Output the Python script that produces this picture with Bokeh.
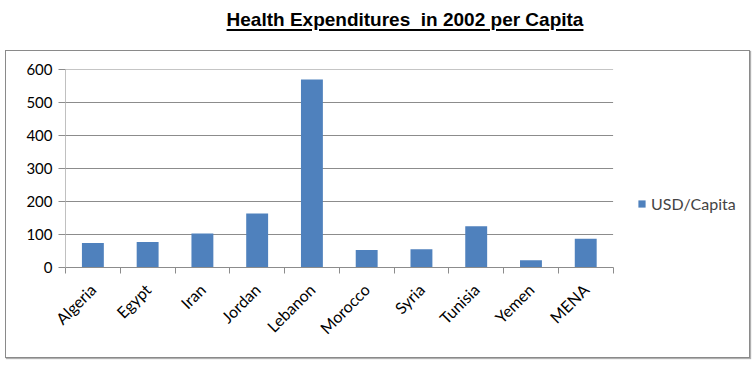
from math import pi
from bokeh.plotting import figure
from bokeh.models import ColumnDataSource, FixedTicker, Legend, LegendItem, Div, Range1d
from bokeh.layouts import column
from bokeh.embed import file_html
from bokeh.resources import INLINE

countries = ["Algeria", "Egypt", "Iran", "Jordan", "Lebanon", "Morocco", "Syria", "Tunisia", "Yemen", "MENA"]
usd_per_capita = [74, 77, 103, 164, 570, 53, 55, 125, 22, 87]
y_ticks = [0, 100, 200, 300, 400, 500, 600]
series_name = "USD/Capita"
title_text = "Health Expenditures&nbsp; in 2002 per Capita"

n = len(countries)
centers = [i + 0.5 for i in range(n)]
bounds = [float(i) for i in range(n + 1)]
src = ColumnDataSource(dict(x=centers, top=usd_per_capita, name=countries))

FONT = "Lato"
BAR = "#4f81bd"
GRID = "#8c8c8c"

# the frame also covers the legend area to the right of the bars
CAT_PX = 546          # pixel width of the category area
FRAME_PX = 680        # pixel width of the whole frame
x_end = n * FRAME_PX / CAT_PX

p = figure(output_backend="svg", toolbar_location=None,
           frame_width=FRAME_PX, frame_height=196,
           x_range=Range1d(0, x_end), y_range=Range1d(y_ticks[0], y_ticks[-1]),
           min_border_left=59, min_border_right=4, min_border_top=18, min_border_bottom=92,
           background_fill_color="white", border_fill_color="white")
p.outline_line_color = None
p.styles = {"border": "1px solid #8a8a8a", "box-shadow": "1px 1px 1px #b0b0b0",
            "margin-left": "5px"}

# horizontal gridlines over the category area only
grid_src = ColumnDataSource(dict(y=y_ticks[1:]))
p.segment(x0=0, x1=n, y0="y", y1="y", source=grid_src, line_color=GRID, line_width=1)

r = p.vbar(x="x", top="top", bottom=0, width=0.4, source=src, fill_color=BAR, line_color=None)

# x axis
p.xaxis.bounds = (0, n)
p.xaxis.ticker = FixedTicker(ticks=centers, minor_ticks=bounds)
p.xaxis.major_label_overrides = {c: name for c, name in zip(centers, countries)}
p.xaxis.major_tick_line_color = None
p.xaxis.minor_tick_line_color = GRID
p.xaxis.minor_tick_in = 0
p.xaxis.minor_tick_out = 6
p.xaxis.axis_line_color = GRID
p.xaxis.major_label_orientation = pi / 4
p.xaxis.major_label_text_font = FONT
p.xaxis.major_label_text_font_size = "16px"
p.xaxis.major_label_text_color = "black"
p.xaxis.major_label_standoff = 13
p.xgrid.grid_line_color = None
p.ygrid.grid_line_color = None

# y axis
p.yaxis.ticker = FixedTicker(ticks=y_ticks)
p.yaxis.axis_line_color = "#c0c0c0"
p.yaxis.major_tick_line_color = GRID
p.yaxis.major_tick_in = 0
p.yaxis.major_tick_out = 7
p.yaxis.minor_tick_line_color = None
p.yaxis.major_label_text_font = FONT
p.yaxis.major_label_text_font_size = "15px"
p.yaxis.major_label_text_color = "black"
p.yaxis.major_label_standoff = 6

legend = Legend(items=[LegendItem(label=series_name, renderers=[r])],
                location=(572, 54), orientation="vertical",
                border_line_color=None, background_fill_alpha=0,
                glyph_width=9, glyph_height=9, label_text_font=FONT,
                label_text_font_size="16px", label_standoff=5, padding=0, margin=0)
p.add_layout(legend, "center")

title = Div(text=('<div style="box-sizing:border-box;width:744px;padding-left:56px;'
                  'text-align:center;font-family:\'Liberation Sans\',Arial,sans-serif;'
                  'font-weight:bold;font-size:19px;line-height:22px;text-decoration:underline;'
                  'text-decoration-thickness:2px;text-underline-offset:3px;'
                  'color:black;padding-top:4px;">' + title_text + '</div>'),
            width=744, height=40)

layout = column(title, p, spacing=0)
open("out.html", "w").write(file_html(layout, INLINE))
